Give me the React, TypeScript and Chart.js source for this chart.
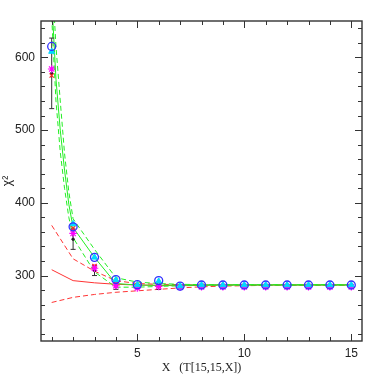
import React, { useEffect, useRef } from "react";
import { Chart, registerables } from "chart.js";

Chart.register(...registerables);

const xs = [1, 2, 3, 4, 5, 6, 7, 8, 9, 10, 11, 12, 13, 14, 15];
const blueCircle = [615, 367, 325, 294.5, 287.5, 293, 285.5, 287, 287, 287, 287, 287, 287, 287, 287];
const cyanTri = [608, 371, 325, 294, 287, 292, 285.5, 287, 287, 287, 287, 287, 287, 287, 287];
const magentaStar = [584, 358, 310, 286, 283, 285, 284, 284.5, 284.5, 284.5, 284.5, 284.5, 284.5, 284.5, 284.5];
const redCross = [575, 365, 313, 288, 285, 286, 285, 285.5, 285.5, 285.5, 285.5, 285.5, 285.5, 285.5, 285.5];
const blackVal = [578, 350, 307, 286, 285, 285, 285, 286, 286, 286, 286, 286, 286, 286, 286];
const blackErr = [48.5, 14, 7, 5, 3, 4, 2, 2, 1.5, 1.5, 1.5, 1.5, 1.5, 1.5, 1.5];

const greenX = [1, 1.2, 1.4, 1.6, 1.8, 2, 3, 4, 5, 6, 7, 8, 9, 10, 11, 12, 13, 14, 15];
const greenMid = [680, 570, 500, 445, 398, 366, 325, 289, 287, 286.5, 287, 287, 287, 287, 287, 287, 287, 287, 287];
const greenUp = [720, 615, 540, 468, 415, 378, 336, 297, 291, 289, 288, 287.5, 287.5, 287.5, 287.5, 287.5, 287.5, 287.5, 287.5];
const greenLow = [655, 540, 470, 420, 380, 352, 305, 284, 284, 285, 286, 286.5, 287, 287, 287, 287, 287, 287, 287];

const redMid = [308, 293, 290, 288, 287, 286.5, 286, 286.5, 287, 287, 287, 287, 287, 287, 287];
const redUp = [369, 323, 306, 293, 289, 288, 287.5, 287, 287, 287, 287, 287, 287, 287, 287];
const redLow = [263, 270, 274, 277, 279, 281, 283, 284.5, 285.5, 286, 286.5, 287, 287, 287, 287];

const xMajor = [5, 10, 15];
const yMajor = [300, 400, 500, 600];
const xMinorStep = 1;
const yMinorStep = 20;

const pts = (x: number[], y: number[]) => x.map((v, i) => ({ x: v, y: y[i] }));

const BLACK_INDEX = 4;

const framePlugin = {
  id: "frameTicks",
  afterDatasetDraw(chart: any, args: any) {
    if (args.index !== BLACK_INDEX) return;
    const ctx = chart.ctx;
    const xs_ = chart.scales.x;
    const ys_ = chart.scales.y;
    ctx.save();
    ctx.strokeStyle = "#333";
    ctx.lineWidth = 1;
    xs.forEach((xv, i) => {
      const px = xs_.getPixelForValue(xv);
      const top = ys_.getPixelForValue(blackVal[i] + blackErr[i]);
      const bot = ys_.getPixelForValue(blackVal[i] - blackErr[i]);
      ctx.beginPath();
      ctx.moveTo(px, top);
      ctx.lineTo(px, bot);
      ctx.moveTo(px - 2.5, top);
      ctx.lineTo(px + 2.5, top);
      ctx.moveTo(px - 2.5, bot);
      ctx.lineTo(px + 2.5, bot);
      ctx.stroke();
    });
    ctx.restore();
  },
  afterDraw(chart: any) {
    const ctx = chart.ctx;
    const { left, right, top, bottom } = chart.chartArea;
    const xs_ = chart.scales.x;
    const ys_ = chart.scales.y;
    ctx.save();
    ctx.strokeStyle = "#333";
    ctx.lineWidth = 1.4;
    ctx.strokeRect(left, top, right - left, bottom - top);
    ctx.lineWidth = 1;
    ctx.beginPath();
    for (let v = 1; v <= 15; v += xMinorStep) {
      const px = Math.round(xs_.getPixelForValue(v)) + 0.5;
      const len = xMajor.includes(v) ? 7 : 4;
      ctx.moveTo(px, bottom);
      ctx.lineTo(px, bottom - len);
      ctx.moveTo(px, top);
      ctx.lineTo(px, top + len);
    }
    for (let v = 220; v <= 640; v += yMinorStep) {
      const py = Math.round(ys_.getPixelForValue(v)) + 0.5;
      const len = yMajor.includes(v) ? 7 : 4;
      ctx.moveTo(left, py);
      ctx.lineTo(left + len, py);
      ctx.moveTo(right, py);
      ctx.lineTo(right - len, py);
    }
    ctx.stroke();
    ctx.restore();
  },
};

export default function App() {
  const ref = useRef<HTMLCanvasElement | null>(null);
  useEffect(() => {
    if (!ref.current) return;
    const lineDs = (label: string, x: number[], y: number[], color: string, dash: number[]) => ({
      type: "line" as const,
      label,
      data: pts(x, y),
      borderColor: color,
      borderWidth: 1,
      borderDash: dash,
      pointRadius: 0,
      fill: false,
      tension: 0,
    });
    const markerDs = (label: string, y: number[], style: any, color: string, fillColor: string, r: number, bw: number) => ({
      type: "scatter" as const,
      label,
      data: pts(xs, y),
      pointStyle: style,
      pointRadius: r,
      borderColor: color,
      backgroundColor: fillColor,
      pointBorderWidth: bw,
      showLine: false,
    });
    const chart = new Chart(ref.current, {
      type: "scatter",
      data: {
        datasets: [
          markerDs("blue", blueCircle, "circle", "#3030ff", "rgba(0,0,0,0)", 4, 1.3),
          markerDs("cyan", cyanTri, "triangle", "#00d8ff", "#00d8ff", 3.5, 1),
          markerDs("magenta", magentaStar, "star", "#ff00ff", "#ff00ff", 3.8, 1.2),
          markerDs("red", redCross, "crossRot", "#ff2020", "#ff2020", 3, 1.2),
          markerDs("black", blackVal, "circle", "#111", "#111", 1.2, 1),
          lineDs("gmid", greenX, greenMid, "#22ee22", []),
          lineDs("gup", greenX, greenUp, "#22ee22", [5, 3]),
          lineDs("glow", greenX, greenLow, "#22ee22", [5, 3]),
          lineDs("rmid", xs, redMid, "#ff3333", []),
          lineDs("rup", xs, redUp, "#ff3333", [5, 3]),
          lineDs("rlow", xs, redLow, "#ff3333", [5, 3]),
        ] as any,
      },
      options: {
        responsive: false,
        animation: false,
        layout: { padding: { left: 0, top: 21, right: 20, bottom: 0 } },
        plugins: { legend: { display: false }, tooltip: { enabled: false } },
        scales: {
          x: {
            type: "linear",
            min: 0.5,
            max: 15.5,
            grid: { display: false, drawTicks: false },
            border: { display: false },
            afterBuildTicks: (s: any) => {
              s.ticks = xMajor.map((v) => ({ value: v }));
            },
            afterFit: (s: any) => {
              s.height = 41;
            },
            ticks: {
              padding: 5,
              color: "#222",
              font: { family: "Liberation Sans", size: 12 },
            },
            title: {
              display: true,
              text: "X   (T[15,15,X])",
              color: "#222",
              font: { family: "Liberation Serif", size: 12 },
              padding: { top: 0, bottom: 7 },
            },
          },
          y: {
            type: "linear",
            min: 210,
            max: 650,
            grid: { display: false, drawTicks: false },
            border: { display: false },
            afterBuildTicks: (s: any) => {
              s.ticks = yMajor.map((v) => ({ value: v }));
            },
            afterFit: (s: any) => {
              s.width = 41;
            },
            ticks: {
              padding: 6,
              color: "#222",
              font: { family: "Liberation Sans", size: 12 },
            },
            title: {
              display: true,
              text: "χ²",
              color: "#222",
              font: { family: "Liberation Sans", size: 12 },
              padding: { top: 0, bottom: 0 },
            },
          },
        },
      },
      plugins: [framePlugin],
    });
    return () => chart.destroy();
  }, []);
  return (
    <div style={{ position: "absolute", left: 0, top: 0, width: 382, height: 382 }}>
      <canvas ref={ref} width={382} height={382} />
    </div>
  );
}
